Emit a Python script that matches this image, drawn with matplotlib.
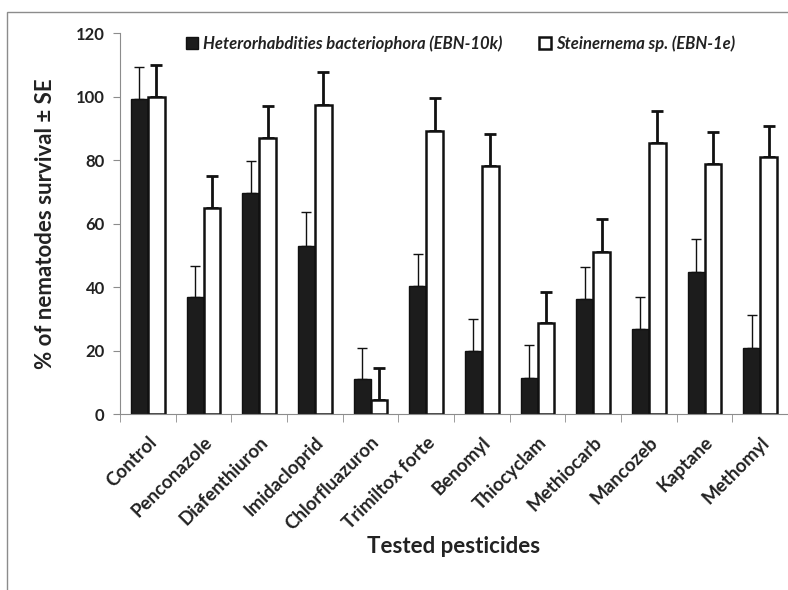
import matplotlib
matplotlib.use("Agg")
import matplotlib.pyplot as plt
import numpy as np
from matplotlib.patches import Rectangle

# --- data ---
PESTICIDES = ["Control", "Penconazole", "Diafenthiuron", "Imidacloprid", "Chlorfluazuron",
              "Trimiltox forte", "Benomyl", "Thiocyclam", "Methiocarb", "Mancozeb",
              "Kaptane", "Methomyl"]
HETERO = [99.3, 36.8, 69.7, 52.9, 10.9, 40.4, 19.9, 11.3, 36.2, 26.8, 44.7, 20.7]
HETERO_SE = [10.0, 9.9, 10.0, 10.7, 10.0, 10.1, 9.9, 10.4, 10.1, 10.2, 10.5, 10.5]
STEINER = [99.9, 64.8, 87.1, 97.5, 4.5, 89.3, 78.3, 28.7, 51.2, 85.3, 78.8, 81.1]
STEINER_SE = [10.1, 10.1, 10.0, 10.3, 10.0, 10.2, 10.0, 9.7, 10.2, 10.2, 10.1, 9.8]
LABELS = ["Heterorhabdities bacteriophora (EBN-10k)", "Steinernema sp. (EBN-1e)"]

plt.rcParams["font.family"] = ["Lato", "DejaVu Sans"]
TXT = "#222222"

fig = plt.figure(figsize=(7.88, 5.90), dpi=100)
ax = fig.add_axes([0.1523, 0.2983, 0.8477, 0.6453])

# outer frame of the original figure (only top and left edges visible)
fig.patches.append(Rectangle((7 / 788, -0.1), 1.2, 1.1 - 12 / 590,
                             transform=fig.transFigure, fill=False,
                             edgecolor="#8c8c8c", linewidth=1.0))

x = np.arange(len(PESTICIDES))
w = 0.3
ax.bar(x - w / 2, HETERO, w, color="#1c1c1c", edgecolor="#111111", linewidth=1.0,
       label=LABELS[0], zorder=2)
ax.bar(x + w / 2, STEINER, w, color="white", edgecolor="#111111", linewidth=1.8,
       label=LABELS[1], zorder=2)
ax.errorbar(x - w / 2, HETERO, yerr=[np.zeros(len(HETERO)), HETERO_SE], fmt="none",
            ecolor="#111111", elinewidth=1.0, capsize=3.5, capthick=1.0, zorder=1)
ax.errorbar(x + w / 2, STEINER, yerr=[np.zeros(len(STEINER)), STEINER_SE], fmt="none",
            ecolor="#111111", elinewidth=2.0, capsize=4, capthick=2.0, zorder=1)

ax.set_xlim(-0.5, len(PESTICIDES) - 0.5)
ax.set_ylim(0, 120)
ax.set_yticks(np.arange(0, 121, 20))
ax.set_xticks(x)
ax.set_xticklabels(PESTICIDES, rotation=45, ha="right", rotation_mode="anchor",
                   fontsize=13.5, fontweight="bold", color=TXT)
ax.tick_params(axis="x", length=0, pad=14)
ax.set_xticks(np.arange(-0.5, len(PESTICIDES), 1), minor=True)
ax.tick_params(axis="x", which="minor", length=6, color="#8c8c8c")
ax.tick_params(axis="y", length=5, color="#8c8c8c", labelsize=12, labelcolor=TXT, pad=6)
for lab in ax.get_yticklabels():
    lab.set_fontweight("bold")

for s in ["top", "right"]:
    ax.spines[s].set_visible(False)
for s in ["left", "bottom"]:
    ax.spines[s].set_color("#8c8c8c")

ax.set_ylabel("% of nematodes survival \u00b1 SE", fontsize=16, fontweight="bold",
              color=TXT, labelpad=14)
ax.set_xlabel("Tested pesticides", fontsize=16, fontweight="bold", color=TXT,
              labelpad=2)

leg = ax.legend(loc="upper center", bbox_to_anchor=(0.51, 1.035), ncol=2, frameon=False,
                handlelength=0.7, handleheight=0.7, handletextpad=0.3, columnspacing=2.2,
                prop={"size": 12, "weight": "bold", "style": "italic"})
for t in leg.get_texts():
    t.set_color(TXT)

fig.savefig("out.png", dpi=100)
